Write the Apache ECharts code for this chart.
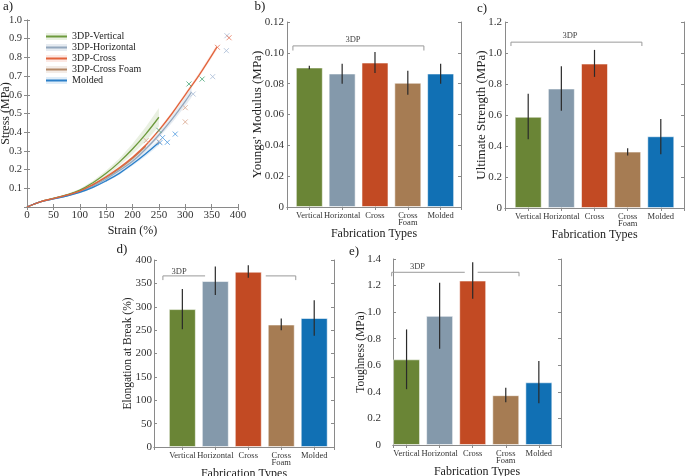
<!DOCTYPE html>
<html><head><meta charset="utf-8">
<script src="https://cdn.jsdelivr.net/npm/echarts@6/dist/echarts.min.js"></script>
<style>html,body{margin:0;padding:0;background:#fff}#c{width:685px;height:476px}</style>
</head><body><div id="c"></div>
<script>
// ---------- Panel a: stress-strain curves ----------
const curveNames = ['3DP-Vertical','3DP-Horizontal','3DP-Cross','3DP-Cross Foam','Molded'];
const strainV = [0,25,50,75,100,125,150,175,200,225,250];
const stressV = [0,0.028,0.046,0.065,0.09,0.13,0.18,0.24,0.31,0.39,0.48];
const bandV   = [0,0.002,0.003,0.004,0.006,0.01,0.015,0.02,0.028,0.038,0.05];
const strainH = [0,25,50,75,100,125,150,175,200,225,250,275,300,312];
const stressH = [0,0.027,0.044,0.06,0.082,0.112,0.15,0.195,0.245,0.31,0.385,0.47,0.565,0.615];
const bandH   = [0,0.002,0.003,0.003,0.004,0.005,0.006,0.008,0.01,0.012,0.015,0.02,0.025,0.028];
const strainC = [0,25,50,75,100,125,150,175,200,225,250,275,300,325,350,360];
const stressC = [0,0.028,0.045,0.063,0.085,0.12,0.162,0.21,0.265,0.33,0.41,0.5,0.6,0.7,0.81,0.855];
const bandC   = [0,0.001,0.002,0.002,0.003,0.004,0.005,0.006,0.007,0.008,0.009,0.01,0.011,0.012,0.013,0.014];
const strainF = [0,25,50,75,100,125,150,175,200,225];
const stressF = [0,0.028,0.046,0.064,0.086,0.118,0.158,0.205,0.26,0.325];
const bandF   = [0,0.001,0.002,0.003,0.004,0.005,0.006,0.008,0.01,0.012];
const strainM = [0,25,50,75,100,125,150,175,200,225,250];
const stressM = [0,0.027,0.043,0.058,0.078,0.105,0.14,0.18,0.23,0.285,0.345];
const bandM   = [0,0.001,0.002,0.003,0.004,0.005,0.006,0.008,0.01,0.013,0.016];
const breakV = [[250,0.41],[307,0.658],[332,0.684]];
const breakH = [[315,0.604],[352,0.697],[378,0.836],[379,0.916]];
const breakC = [[361,0.854],[383,0.905]];
const breakF = [[226,0.355],[250,0.35],[300,0.531],[300,0.455]];
const breakM = [[252,0.344],[257,0.371],[266,0.346],[281,0.39]];

// ---------- Panels b-e: bar charts ----------
const categories = ['Vertical','Horizontal','Cross','Cross\nFoam','Molded'];
const catPos = [1,2,3,4,5];
const modulus   = [0.0905,0.0866,0.0937,0.0806,0.0866];
const modulusLo = [0.0894,0.0800,0.0870,0.0728,0.0800];
const modulusHi = [0.0916,0.0930,0.1005,0.0883,0.0930];
const strength   = [0.589,0.771,0.932,0.364,0.463];
const strengthLo = [0.444,0.628,0.846,0.339,0.347];
const strengthHi = [0.737,0.915,1.020,0.386,0.574];
const elong   = [295,355,375,262,276];
const elongLo = [252,325,362,250,238];
const elongHi = [338,386,389,275,314];
const tough   = [0.645,0.972,1.238,0.375,0.472];
const toughLo = [0.42,0.725,1.100,0.322,0.314];
const toughHi = [0.870,1.222,1.375,0.430,0.632];

const FONT = 'Liberation Serif';
const AX = '#8a8a8a';
const lineColors = ['#6d9a3c','#93a7bd','#e2633b','#b48a68','#2b7fc9'];
const bandColors = ['rgba(120,160,70,0.16)','rgba(150,170,195,0.24)','rgba(235,110,80,0.16)','rgba(190,150,120,0.18)','rgba(60,140,210,0.16)'];
const markColors = ['#46a677','#a9bcd6','#e8775a','#d9a68c','#4e9ae0'];
const barColors  = ['#6a8536','#8499ab','#c24a23','#a67c53','#1170b4'];

const chart = echarts.init(document.getElementById('c'), null, {renderer:'canvas'});

const grids = [
  {left:27, top:20, width:211, height:187},
  {left:287, top:22, width:174, height:185},
  {left:505, top:22, width:179, height:186},
  {left:154, top:260, width:180, height:187},
  {left:393, top:259, width:168, height:186}
].map(g => Object.assign({outerBoundsMode:'none', containLabel:false}, g));

const tick = {show:true, inside:true, length:3, lineStyle:{color:AX, width:1}};
const line = {show:true, lineStyle:{color:AX, width:1}};
const lbl = (o) => Object.assign({color:'#333', fontFamily:FONT, fontSize:11}, o);
const nameStyle = (s) => ({fontFamily:FONT, fontSize:s, color:'#222'});

const xAxes = [], yAxes = [];
function addPanelAxes(g, xcfg, ycfg) {
  xAxes.push(Object.assign({gridIndex:g, position:'bottom', nameMoveOverlap:false, axisLine:line, axisTick:tick, splitLine:{show:false}}, xcfg));
  const xt = Object.assign({}, xcfg, {gridIndex:g, position:'top', name:'', axisLine:line, axisTick:tick, axisLabel:{show:false}, splitLine:{show:false}});
  xAxes.push(xt);
  yAxes.push(Object.assign({gridIndex:g, position:'left', nameMoveOverlap:false, axisLine:line, axisTick:tick, splitLine:{show:false}}, ycfg));
  const yr = Object.assign({}, ycfg, {gridIndex:g, position:'right', name:'', axisLine:line, axisTick:tick, axisLabel:{show:false}, splitLine:{show:false}});
  yAxes.push(yr);
}

// panel a
addPanelAxes(0,
  {type:'value', min:0, max:400, interval:50, name:'Strain (%)', nameLocation:'middle', nameGap:18, nameTextStyle:nameStyle(12),
   axisLabel:lbl({margin:3, formatter:v=>String(v)})},
  {type:'value', min:0, max:1, interval:0.1, name:'Stress (MPa)', nameLocation:'middle', nameGap:15, nameTextStyle:nameStyle(12),
   axisLabel:lbl({fontSize:10.5, margin:5, formatter:v=> v===0 ? '' : v.toFixed(1)})});

function catX(min, max, nameSize, gap) {
  return {type:'value', min, max, minInterval:1, maxInterval:1, name:'Fabrication Types', nameLocation:'middle', nameGap:gap,
    nameTextStyle:nameStyle(nameSize),
    axisLabel:lbl({fontSize:8.5, lineHeight:7.5, margin:5, color:'#333',
      formatter:v=>{const r=Math.round(v); return (Math.abs(v-r)<1e-6 && r>=1 && r<=5) ? categories[r-1] : '';}})};
}
addPanelAxes(1, catX(0.32,5.62,12,21),
  {type:'value', min:0, max:0.12, interval:0.02, name:"Youngs' Modulus (MPa)", nameLocation:'middle', nameGap:23, nameTextStyle:nameStyle(13),
   axisLabel:lbl({margin:3, formatter:v=> v===0 ? '0' : v.toFixed(2)})});
addPanelAxes(2, catX(0.30,5.70,12,21),
  {type:'value', min:0, max:1.2, interval:0.2, name:'Ultimate Strength (MPa)', nameLocation:'middle', nameGap:17, nameTextStyle:nameStyle(13),
   axisLabel:lbl({margin:3, formatter:v=> v===0 ? '0' : v.toFixed(1)})});
addPanelAxes(3, catX(0.14,5.60,12,21),
  {type:'value', min:0, max:400, interval:50, name:'Elongation at Break (%)', nameLocation:'middle', nameGap:20, nameTextStyle:nameStyle(11.5),
   axisLabel:lbl({margin:2, formatter:v=>String(v)})});
addPanelAxes(4, catX(0.59,5.67,12,21),
  {type:'value', min:0, max:1.4, interval:0.2, name:'Toughness (MPa)', nameLocation:'middle', nameGap:26, nameTextStyle:nameStyle(11.5),
   axisLabel:lbl({margin:12, formatter:v=> v===0 ? '0' : v.toFixed(1)})});

const series = [];
const curves = [
  [strainV, stressV, bandV, breakV],
  [strainH, stressH, bandH, breakH],
  [strainC, stressC, bandC, breakC],
  [strainF, stressF, bandF, breakF],
  [strainM, stressM, bandM, breakM]
];
const bandNames = curveNames.map(n => n + ' band');
const drawOrder = [3,0,1,4,2];
drawOrder.forEach(k => {
  const [xs, ys, hw] = curves[k];
  const rows = xs.map((x,i) => [x, ys[i]-hw[i], ys[i]+hw[i]]);
  series.push({type:'custom', name:bandNames[k], xAxisIndex:0, yAxisIndex:0, data:rows, silent:true, z:1,
    itemStyle:{color:bandColors[k]},
    renderItem:(params, api) => {
      if (params.dataIndex !== 0) return null;
      const pts = [];
      rows.forEach(r => pts.push(api.coord([r[0], r[2]])));
      for (let i = rows.length-1; i >= 0; i--) pts.push(api.coord([rows[i][0], rows[i][1]]));
      return {type:'polygon', shape:{points:pts}, style:{fill:bandColors[k]}};
    }});
});
drawOrder.forEach(k => {
  const [xs, ys] = curves[k];
  series.push({type:'line', name:curveNames[k], xAxisIndex:0, yAxisIndex:0, data:xs.map((x,i)=>[x, ys[i]]),
    smooth:0.4, showSymbol:false, symbol:'none', silent:true, z:3,
    lineStyle:{color:lineColors[k], width:1.3}, itemStyle:{color:lineColors[k]}});
});
curves.forEach((c,k) => {
  series.push({type:'scatter', xAxisIndex:0, yAxisIndex:0, data:c[3], silent:true, z:4,
    symbol:'path://M0,0L10,10M10,0L0,10', symbolSize:5,
    itemStyle:{color:'transparent', borderColor:markColors[k], borderWidth:1}});
});

function barPanel(g, vals, lo, hi, brackets, textPos) {
  const xi = 2*g, yi = 2*g;
  series.push({type:'custom', xAxisIndex:xi, yAxisIndex:yi, data:brackets, silent:true, z:1,
    renderItem:(p, api) => {
      const x1 = api.value(0), x2 = api.value(1), y = api.value(2), dl = api.value(3), dr = api.value(4);
      const pts = [];
      if (dl) pts.push(api.coord([x1, y-dl]));
      pts.push(api.coord([x1, y])); pts.push(api.coord([x2, y]));
      if (dr) pts.push(api.coord([x2, y-dr]));
      return {type:'polyline', shape:{points:pts}, style:{stroke:'#9a9a9a', lineWidth:1, fill:null}};
    }});
  series.push({type:'custom', xAxisIndex:xi, yAxisIndex:yi, data:[textPos], silent:true, z:1,
    renderItem:(p, api) => {
      const c = api.coord([api.value(0), api.value(1)]);
      return {type:'text', x:c[0], y:c[1], style:{text:'3DP', font:'8.5px "Liberation Serif"', fill:'#444', align:'center', verticalAlign:'middle'}};
    }});
  series.push({type:'bar', xAxisIndex:xi, yAxisIndex:yi, barWidth:27, silent:true, z:2,
    data:catPos.map((x,i)=>({value:[x, vals[i]], itemStyle:{color:barColors[i]}})),
    itemStyle:{borderColor:'rgba(255,255,255,0.55)', borderWidth:1}});
  series.push({type:'custom', xAxisIndex:xi, yAxisIndex:yi, silent:true, z:3,
    data:catPos.map((x,i)=>[x, lo[i], hi[i]]),
    renderItem:(p, api) => {
      const a = api.coord([api.value(0), api.value(1)]), b = api.coord([api.value(0), api.value(2)]);
      return {type:'line', shape:{x1:a[0], y1:a[1], x2:b[0], y2:b[1]}, style:{stroke:'#2a2a2a', lineWidth:1.2}};
    }});
}
barPanel(1, modulus, modulusLo, modulusHi, [[0.5,4.49,0.1045,0.003,0.003]], [2.33,0.1088]);
barPanel(2, strength, strengthLo, strengthHi, [[0.48,4.43,1.07,0.025,0.025]], [2.26,1.114]);
barPanel(3, elong, elongLo, elongHi, [[0.41,1.69,366,9,0],[3.53,4.44,366,0,9]], [0.9,375]);
barPanel(4, tough, toughLo, toughHi, [[0.55,2.76,1.30,0.03,0],[3.15,4.40,1.30,0,0.03]], [1.33,1.34]);

const panelLabels = [['a)',8,7],['b)',260,7],['c)',482,9],['d)',122,250],['e)',354,252]];

chart.setOption({
  animation:false,
  backgroundColor:'#fff',
  grid:grids,
  xAxis:xAxes,
  yAxis:yAxes,
  legend:[
    {data:bandNames, left:41, top:26, orient:'vertical', icon:'rect', itemWidth:21, itemHeight:7, itemGap:0,
     formatter:()=>' ', selectedMode:false, textStyle:{fontFamily:FONT, fontSize:10, lineHeight:11, color:'transparent'}},
    {data:curveNames, left:41, top:26, orient:'vertical', icon:'rect', itemWidth:21, itemHeight:2, itemGap:0,
     selectedMode:false, textStyle:{fontFamily:FONT, fontSize:10, lineHeight:11, color:'#222'}}
  ],
  graphic: panelLabels.map(p => ({type:'text', x:p[1], y:p[2],
    style:{text:p[0], font:'13px "Liberation Serif"', fill:'#222', align:'center', verticalAlign:'middle'}})),
  series
});
</script></body></html>
